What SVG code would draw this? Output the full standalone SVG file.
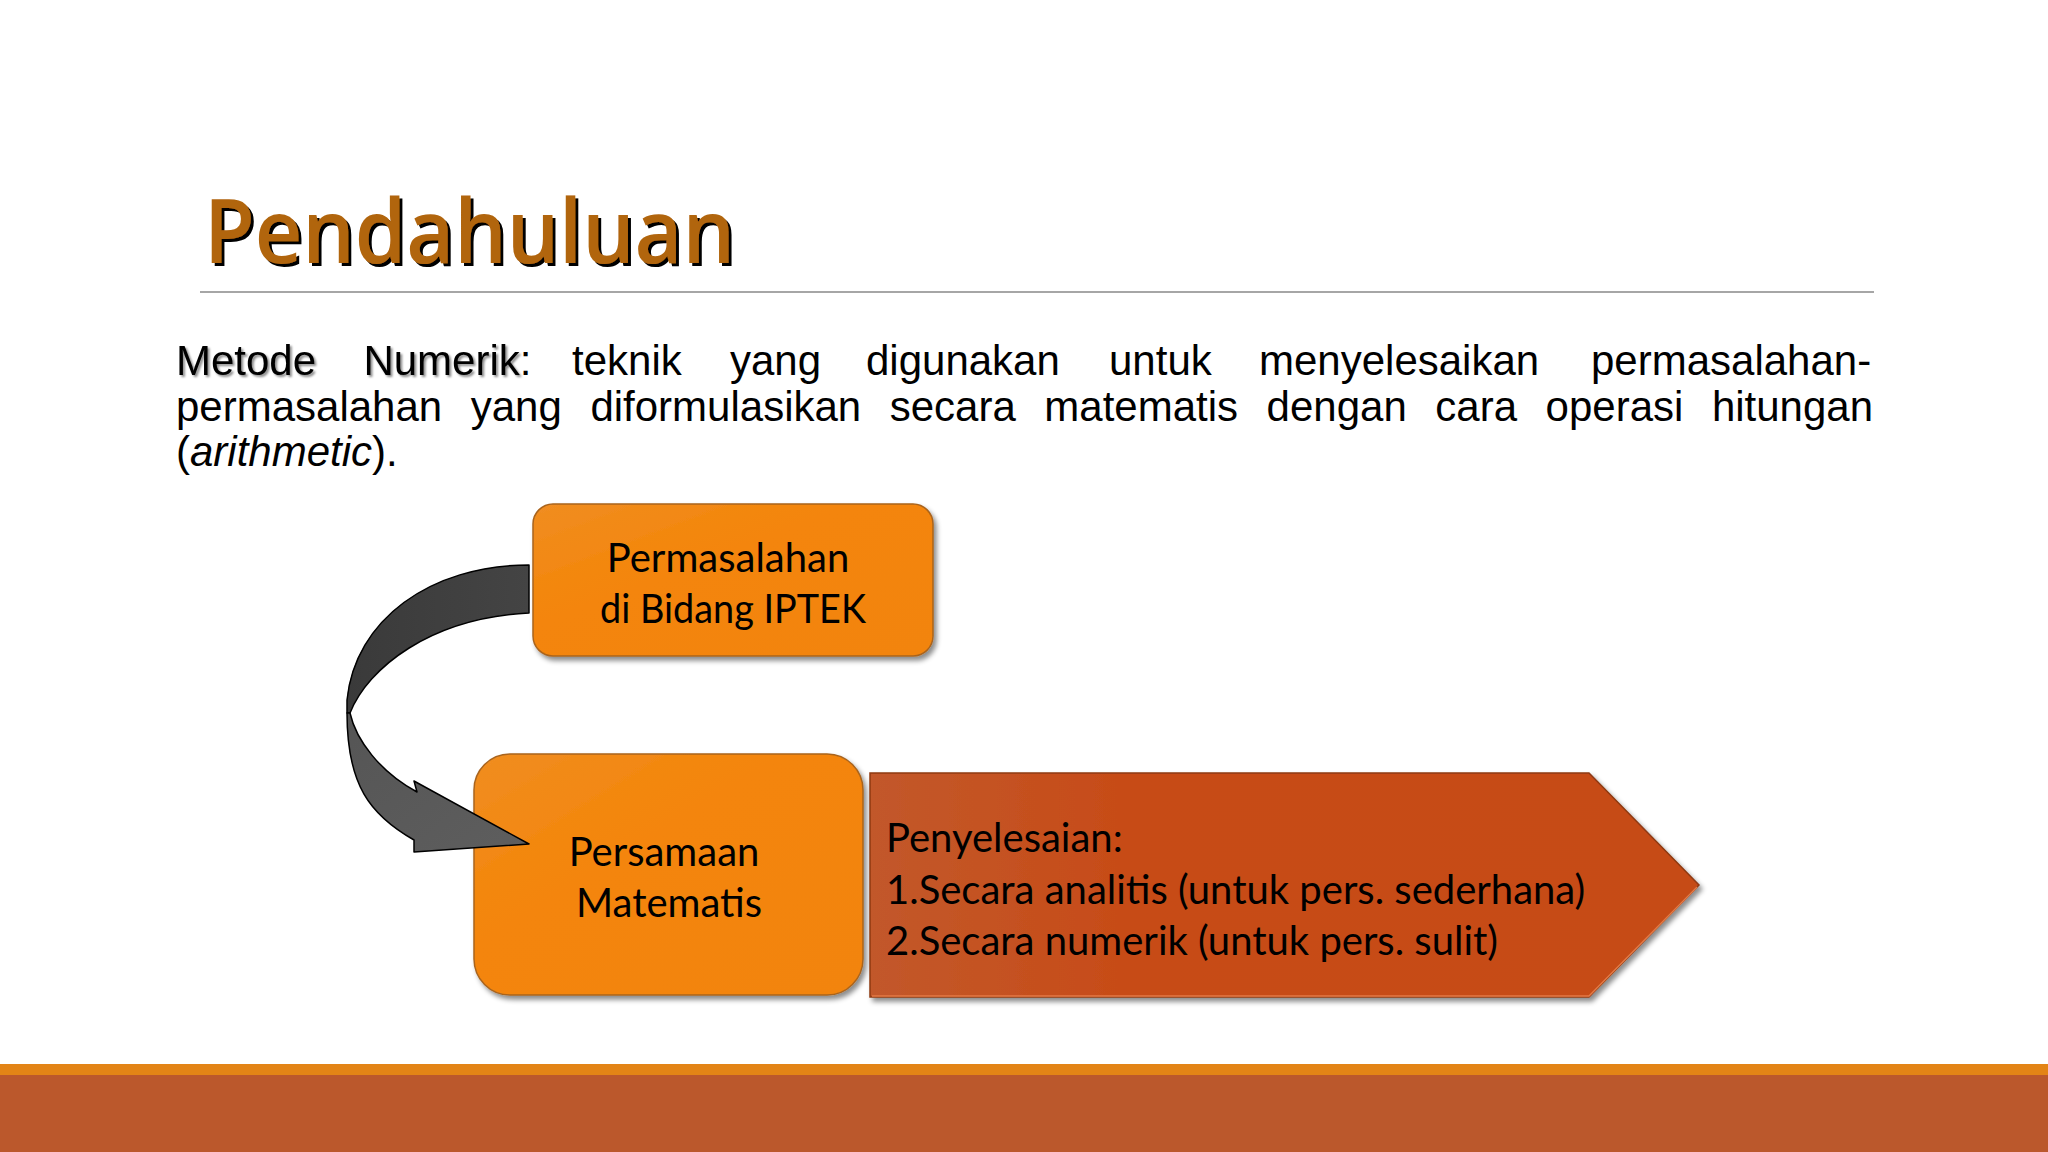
<svg xmlns="http://www.w3.org/2000/svg" width="2048" height="1152" viewBox="0 0 2048 1152">
  <style>
    .title { font-family: "Open Sans", "Noto Sans", sans-serif; font-weight: 600; font-size: 88px; }
    .body { font-family: "Liberation Sans", Arial, sans-serif; font-size: 42px; fill: #000; }
    .node { font-family: Lato, "Noto Sans", sans-serif; font-size: 40px; fill: #000; }
    .edge { stroke: #000; stroke-width: 1.5; stroke-linejoin: round; }
  </style>
  <defs>
    <linearGradient id="gOrange" x1="0" y1="0" x2="1" y2="1">
      <stop offset="0" stop-color="#F08D22"/>
      <stop offset="0.4" stop-color="#F48507"/>
      <stop offset="1" stop-color="#F2840B"/>
    </linearGradient>
    <linearGradient id="gRust" x1="0" y1="0" x2="1" y2="0">
      <stop offset="0" stop-color="#C2582B"/>
      <stop offset="0.3" stop-color="#C74C18"/>
      <stop offset="1" stop-color="#C64B17"/>
    </linearGradient>
    <linearGradient id="gDark" x1="0" y1="0" x2="1" y2="0">
      <stop offset="0" stop-color="#3A3A3A"/>
      <stop offset="1" stop-color="#444444"/>
    </linearGradient>
    <linearGradient id="gGrey" x1="0" y1="0" x2="1" y2="1">
      <stop offset="0" stop-color="#555555"/>
      <stop offset="1" stop-color="#5E5E5E"/>
    </linearGradient>
    <filter id="shadow" x="-10%" y="-10%" width="125%" height="130%">
      <feDropShadow dx="3" dy="4" stdDeviation="2.5" flood-color="#000" flood-opacity="0.45"/>
    </filter>
    <filter id="textShadow" x="-5%" y="-20%" width="115%" height="150%">
      <feDropShadow dx="2" dy="2" stdDeviation="1" flood-color="#000" flood-opacity="0.45"/>
    </filter>
    <filter id="titleShadow" x="-5%" y="-20%" width="115%" height="150%">
      <feDropShadow dx="3" dy="3" stdDeviation="0.4" flood-color="#000" flood-opacity="1"/>
    </filter>
  </defs>

  <rect x="0" y="0" width="2048" height="1152" fill="#FFFFFF"/>

  <!-- Title -->
  <g id="title">
    <text class="title" x="204" y="263" fill="#B1650F" textLength="531" lengthAdjust="spacingAndGlyphs" filter="url(#titleShadow)">Pendahuluan</text>
    <line x1="200" y1="292" x2="1874" y2="292" stroke="#A6A6A6" stroke-width="2"/>
  </g>

  <!-- Body text -->
  <g id="definition">
    <text class="body" x="176" y="375" filter="url(#textShadow)">Metode</text>
    <text class="body" x="363.4" y="375" filter="url(#textShadow)">Numerik</text>
    <text class="body" x="519.7" y="375">:</text>
    <text class="body" y="375"><tspan x="572">teknik</tspan><tspan x="730">yang</tspan><tspan x="866">digunakan</tspan><tspan x="1109">untuk</tspan><tspan x="1259">menyelesaikan</tspan><tspan x="1591">permasalahan-</tspan></text>
    <text class="body" y="421"><tspan x="176">permasalahan</tspan><tspan x="470.7">yang</tspan><tspan x="590.4">diformulasikan</tspan><tspan x="889.7">secara</tspan><tspan x="1044.3">matematis</tspan><tspan x="1266.6">dengan</tspan><tspan x="1435.3">cara</tspan><tspan x="1545.6">operasi</tspan><tspan x="1711.9">hitungan</tspan></text>
    <text class="body" x="176" y="466">(<tspan font-style="italic">arithmetic</tspan>).</text>
  </g>

  <!-- Node: Permasalahan -->
  <g id="node-permasalahan">
    <rect x="533" y="504" width="400" height="152" rx="20" ry="20" fill="url(#gOrange)" stroke="#A9641E" stroke-width="1.5" filter="url(#shadow)"/>
    <text class="node" x="728" y="572" text-anchor="middle">Permasalahan</text>
    <text class="node" x="733" y="623" text-anchor="middle" textLength="266" lengthAdjust="spacingAndGlyphs">di Bidang IPTEK</text>
  </g>

  <!-- Node: Persamaan Matematis -->
  <g id="node-persamaan">
    <rect x="474" y="754" width="389" height="241" rx="36" ry="36" fill="url(#gOrange)" stroke="#A9641E" stroke-width="1.5" filter="url(#shadow)"/>
    <text class="node" x="664" y="866" text-anchor="middle">Persamaan</text>
    <text class="node" x="669" y="917" text-anchor="middle">Matematis</text>
  </g>

  <!-- Node: Penyelesaian -->
  <g id="node-penyelesaian">
    <polygon points="870,773 1589,773 1699,885 1589,997 870,997" fill="url(#gRust)" stroke="#8E3A12" stroke-width="1.5" filter="url(#shadow)"/>
    <polyline points="1697,887 1589,996 872,996" fill="none" stroke="#E57A45" stroke-width="1.5"/>
    <text class="node" x="886" y="852">Penyelesaian:</text>
    <text class="node" x="886" y="904">1.Secara analitis (untuk pers. sederhana)</text>
    <text class="node" x="886" y="955">2.Secara numerik (untuk pers. sulit)</text>
  </g>

  <!-- Connectors -->
  <g id="connectors">
    <path class="edge" fill="url(#gDark)" d="M 529 565 C 430 565, 355 620, 347 700 L 347 713 L 350 713 C 368 668, 430 618, 529 613 Z"/>
    <path class="edge" fill="url(#gGrey)" d="M 350 713 C 356 740, 380 772, 417 792 L 414 781 L 529 844 L 414 852 L 414 840 C 370 815, 347 785, 347 713 Z"/>
  </g>

  <!-- Bottom band -->
  <rect x="0" y="1064" width="2048" height="11" fill="#E38416"/>
  <rect x="0" y="1075" width="2048" height="77" fill="#BB582C"/>
</svg>
